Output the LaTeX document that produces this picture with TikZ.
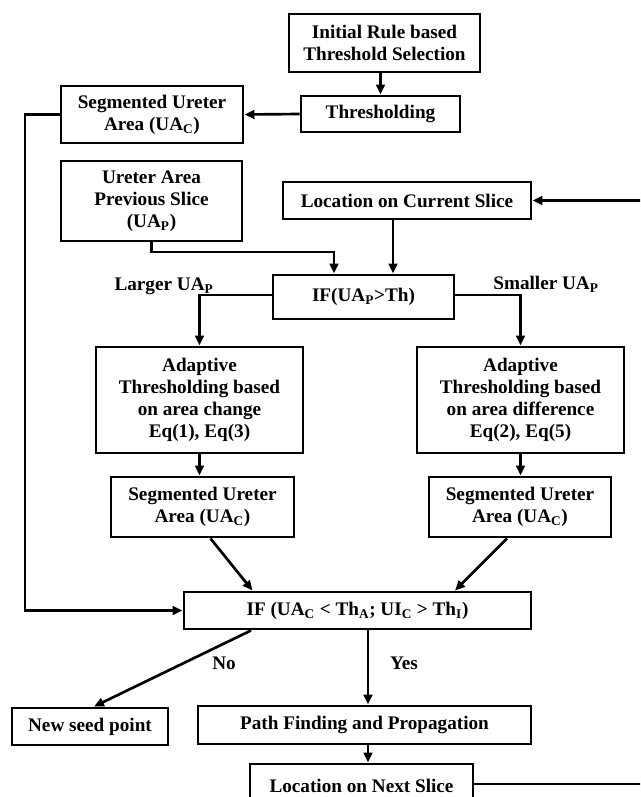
\documentclass[tikz,border=0pt]{standalone}
\usepackage{fontspec}
\setmainfont{Liberation Serif}
\usetikzlibrary{arrows.meta,calc}
\newcommand\sbs[1]{\textsubscript{#1}}
\begin{document}
\begin{tikzpicture}[x=0.75pt,y=-0.75pt,
  font=\fontsize{14.4}{16.5}\selectfont\bfseries,
  box/.style={draw,line width=2.2pt,align=center,inner sep=0pt},
  sz/.style 2 args={minimum width=#1*0.75pt,minimum height=#2*0.75pt},
  arr/.style={line width=2pt,-{Triangle[length=7.5pt,width=6.5pt]}},
  lab/.style={inner sep=0pt}]
\useasboundingbox (0,0) rectangle (640,797);
\clip (0,0) rectangle (640,797);
\node[box,sz={191}{58}] (init) at (384.5,43) {Initial Rule based\\Threshold Selection};
\node[box,sz={159}{36}] (thr) at (380.5,114) {Thresholding};
\node[box,sz={182}{57}] (seg0) at (152,114.5) {Segmented Ureter\\Area (UA\sbs{C})};
\node[box,sz={181}{80}] (prev) at (151.5,201) {Ureter Area\\Previous Slice\\(UA\sbs{P})};
\node[box,sz={248}{37}] (loccur) at (407,200.5) {Location on Current Slice};
\node[box,sz={181}{44}] (if1) at (363.5,297) {IF(UA\sbs{P}>Th)};
\node[box,sz={207}{106}] (adL) at (199.5,400) {Adaptive\\Thresholding based\\on area change\\Eq(1), Eq(3)};
\node[box,sz={207}{106}] (adR) at (520.5,400) {Adaptive\\Thresholding based\\on area difference\\Eq(2), Eq(5)};
\node[box,sz={183}{60}] (segL) at (202.5,507) {Segmented Ureter\\Area (UA\sbs{C})};
\node[box,sz={182}{60}] (segR) at (520,507) {Segmented Ureter\\Area (UA\sbs{C})};
\node[box,sz={347}{37}] (if2) at (357.5,610.5) {IF (UA\sbs{C} < Th\sbs{A}; UI\sbs{C} > Th\sbs{I})};
\node[box,sz={156}{37}] (seed) at (90,726.5) {New seed point};
\node[box,sz={333}{38}] (path) at (364.5,725) {Path Finding and Propagation};
\node[box,sz={223}{44}] (locnext) at (361.5,786) {Location on Next Slice};
\node[lab] (lbL) at (164,286) {Larger UA\sbs{P}};
\node[lab] (lbR) at (546,284) {Smaller UA\sbs{P}};
\node[lab] (lbNo) at (224,663) {No};
\node[lab] (lbYes) at (404,663) {Yes};
\coordinate (lx) at (25,0);
\coordinate (j1) at (334,252);
\coordinate (c2) at (393,0);
\coordinate (yx) at (368,0);
\coordinate (rx) at (655,0);
\draw[arr] (init.south -| thr.north) -- (thr.north);
\draw[arr] (thr.west) -- (seg0.east);
\draw[arr] (seg0.west) -| (lx |- if2.west) -- (if2.west);
\draw[arr] (prev.south) |- (j1) -- (j1 |- if1.north);
\draw[arr] (c2 |- loccur.south) -- (c2 |- if1.north);
\draw[arr] ([yshift=1.5pt]if1.west) -| (adL.north);
\draw[arr] ([yshift=1.5pt]if1.east) -| (adR.north);
\draw[arr] (adL.south) -- (adL.south |- segL.north);
\draw[arr] (adR.south) -- (adR.south |- segR.north);
\draw[arr] ($(segL.south)+(8,0)$) -- ($(if2.north)+(-105,0)$);
\draw[arr] ($(segR.south)+(-13,0)$) -- ($(if2.north)+(97.5,0)$);
\draw[arr] ($(if2.south)+(-106.5,0)$) -- ($(seed.north)+(4,0)$);
\draw[arr] (yx |- if2.south) -- (yx |- path.north);
\draw[arr] (yx |- path.south) -- (yx |- locnext.north);
\draw[arr] ([yshift=1.5pt]locnext.east) -| (rx |- loccur.east) -- (loccur.east);
\end{tikzpicture}
\end{document}
